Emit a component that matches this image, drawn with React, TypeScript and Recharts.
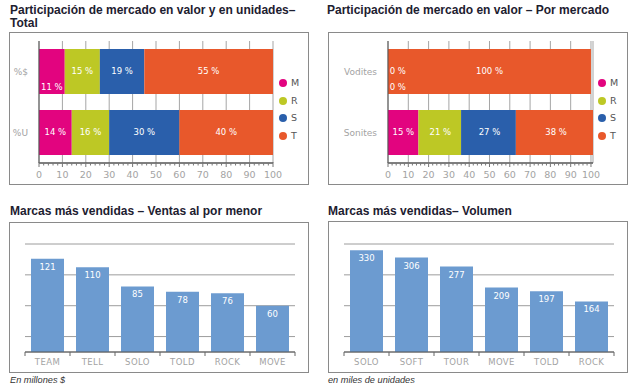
import React from 'react';
import { BarChart, Bar, XAxis, YAxis, CartesianGrid, LabelList } from 'recharts';

// market share, whole market
const totalRows = ['%$', '%U'];
const totalM = [11, 14];
const totalR = [15, 16];
const totalS = [19, 30];
const totalT = [55, 40];

// market share by market
const marketRows = ['Vodites', 'Sonites'];
const marketM = [0, 15];
const marketR = [0, 21];
const marketS = [0, 27];
const marketT = [100, 38];

const shareKeys = ['M', 'R', 'S', 'T'];
const pctTicks = [0, 10, 20, 30, 40, 50, 60, 70, 80, 90, 100];

// top brands
const retailBrands = ['TEAM', 'TELL', 'SOLO', 'TOLD', 'ROCK', 'MOVE'];
const retailSales = [121, 110, 85, 78, 76, 60];
const retailTicks = [0, 20, 40, 60, 80, 100, 120, 140];

const volumeBrands = ['SOLO', 'SOFT', 'TOUR', 'MOVE', 'TOLD', 'ROCK'];
const volumeUnits = [330, 306, 277, 209, 197, 164];
const volumeTicks = [0, 50, 100, 150, 200, 250, 300, 350];

const colors: Record<string, string> = {
  M: '#e2047f',
  R: '#bdc825',
  S: '#2a5fab',
  T: '#e8582b',
};
const brandBlue = '#6c9bd0';
const tickFont = '"DejaVu Sans", Verdana, sans-serif';
const titleFont = '"Liberation Sans", Arial, sans-serif';

type Slot = 'center' | 'below' | null;

const labelWidth = (v: number) => `${v} %`.length * 5.2;

// labels that don't fit go to the bottom of the bar, colliding ones get dropped
function placeLabels(values: number[], pxPerUnit: number): Slot[] {
  const taken: { slot: Slot; a: number; b: number }[] = [];
  let start = 0;
  return values.map((v) => {
    const w = v * pxPerUnit;
    const tw = labelWidth(v);
    const cx = Math.max(start * pxPerUnit + w / 2, tw / 2 + 2);
    start += v;
    const order: Slot[] = w >= tw + 8 ? ['center', 'below'] : ['below', 'center'];
    const a = cx - tw / 2;
    const b = cx + tw / 2;
    const slot = order.find((s) => !taken.some((t) => t.slot === s && t.a < b && a < t.b)) ?? null;
    if (slot) taken.push({ slot, a, b });
    return slot;
  });
}

function Legend({ left, top }: { left: number; top: number }) {
  return (
    <div style={{ position: 'absolute', left, top }}>
      {shareKeys.map((k, i) => (
        <div key={k} style={{ position: 'absolute', left: 0, top: i * 17.7, display: 'flex', alignItems: 'center', whiteSpace: 'nowrap' }}>
          <span style={{ width: 8, height: 8, borderRadius: 4, background: colors[k], display: 'inline-block' }} />
          <span style={{ marginLeft: 4, fontSize: 9.5, color: '#555', fontFamily: tickFont, lineHeight: '10px' }}>{k}</span>
        </div>
      ))}
    </div>
  );
}

// major tick with label plus four minor ticks to its right
function PctTick(props: any) {
  const { x, y, payload, step } = props;
  const minors = payload.value < 100 ? [1, 2, 3, 4] : [];
  return (
    <g>
      <line x1={x} x2={x} y1={y - 1} y2={y + 4} stroke="#777" />
      {minors.map((m) => (
        <line key={m} x1={x + m * step} x2={x + m * step} y1={y} y2={y + 2.5} stroke="#777" />
      ))}
      <text x={x} y={y + 15} textAnchor="middle" fill="#a3a3a3" fontSize={9.5} fontFamily={tickFont}>
        {payload.value}
      </text>
    </g>
  );
}

function ShareChart({
  left,
  top,
  height,
  rows,
  series,
  yWidth,
  marginRight,
}: {
  left: number;
  top: number;
  height: number;
  rows: string[];
  series: number[][];
  yWidth: number;
  marginRight: number;
}) {
  const width = 300;
  const data = rows.map((name, i) => {
    const row: Record<string, string | number> = { name };
    shareKeys.forEach((k, s) => (row[k] = series[s][i]));
    return row;
  });
  const plotW = width - yWidth - marginRight;
  const slots = rows.map((_, i) => placeLabels(series.map((s) => s[i]), plotW / 100));

  // all labels of a row are drawn from the last segment, which is never empty
  const renderRowLabels = (p: any) => {
    const i = p.index;
    if (!slots[i]) return null;
    const px = (p.x + p.width - yWidth) / 100;
    const cy = p.y + p.height / 2;
    let start = 0;
    return (
      <g key={`row-${i}`}>
        {series.map((s, si) => {
          const v = s[i];
          const segX = yWidth + start * px;
          start += v;
          const slot = slots[i][si];
          if (!slot) return null;
          const tw = labelWidth(v);
          const x = Math.max(segX + (v * px) / 2, yWidth + tw / 2 + 2);
          const y = cy + (slot === 'below' ? 16 : 0);
          return (
            <text key={si} x={x} y={y} dy="0.35em" textAnchor="middle" fill="#fff" fontSize={8.5} fontFamily={tickFont}>
              {`${v} %`}
            </text>
          );
        })}
      </g>
    );
  };

  return (
    <div style={{ position: 'absolute', left, top }}>
      <BarChart
        width={width}
        height={height}
        data={data}
        layout="vertical"
        barSize={45}
        margin={{ top: 9, right: marginRight, bottom: 0, left: 0 }}
      >
        <CartesianGrid horizontal={false} stroke="#a5a5a5" />
        <XAxis
          type="number"
          domain={[0, 100]}
          ticks={pctTicks}
          interval={0}
          height={height - 9 - 122}
          axisLine={{ stroke: '#555', strokeWidth: 1.5 }}
          tickLine={false}
          tickSize={0}
          tickMargin={0}
          tick={<PctTick step={plotW / 50} />}
        />
        <YAxis
          type="category"
          dataKey="name"
          width={yWidth}
          axisLine={{ stroke: '#555' }}
          tickLine={false}
          tickSize={0}
          tickMargin={11}
          tick={{ fill: '#a3a3a3', fontSize: 9, fontFamily: tickFont }}
        />
        {shareKeys.map((k, si) => (
          <Bar
            key={k}
            dataKey={k}
            stackId="a"
            fill={colors[k]}
            isAnimationActive={false}
            label={si === shareKeys.length - 1 ? renderRowLabels : undefined}
          />
        ))}
      </BarChart>
    </div>
  );
}

function BrandTick(props: any) {
  const { x, y, payload, index, band } = props;
  return (
    <g>
      <line x1={x - band / 2} x2={x - band / 2} y1={y} y2={y + 4} stroke="#666" />
      {index === 5 && <line x1={x + band / 2} x2={x + band / 2} y1={y} y2={y + 4} stroke="#666" />}
      <text x={x} y={y + 13} textAnchor="middle" fill="#a3a3a3" fontSize={8.5} letterSpacing={0.4} fontFamily={tickFont}>
        {payload.value}
      </text>
    </g>
  );
}

function BrandChart({
  left,
  top,
  brands,
  values,
  ticks,
}: {
  left: number;
  top: number;
  brands: string[];
  values: number[];
  ticks: number[];
}) {
  const data = brands.map((name, i) => ({ name, value: values[i] }));
  const margin = { top: 22, right: 14, bottom: 0, left: 16 };
  const band = (300 - margin.left - margin.right) / brands.length;
  return (
    <div style={{ position: 'absolute', left, top }}>
      <BarChart width={300} height={150} data={data} margin={margin} barSize={33}>
        <CartesianGrid vertical={false} stroke="#9c9c9c" />
        <XAxis
          dataKey="name"
          height={20}
          interval={0}
          axisLine={{ stroke: '#555' }}
          tickLine={false}
          tickSize={0}
          tickMargin={0}
          tick={<BrandTick band={band} />}
        />
        <YAxis hide domain={[0, ticks[ticks.length - 1]]} ticks={ticks} />
        <Bar dataKey="value" fill={brandBlue} isAnimationActive={false}>
          <LabelList dataKey="value" position="insideTop" offset={5} fill="#fff" fontSize={8.5} fontFamily={tickFont} />
        </Bar>
      </BarChart>
    </div>
  );
}

const titleStyle: React.CSSProperties = {
  position: 'absolute',
  fontFamily: titleFont,
  fontWeight: 'bold',
  fontSize: 12,
  lineHeight: '13px',
  color: '#1d2030',
  whiteSpace: 'nowrap',
};

const noteStyle: React.CSSProperties = {
  position: 'absolute',
  fontFamily: titleFont,
  fontStyle: 'italic',
  fontSize: 9.2,
  lineHeight: '10px',
  color: '#333',
  whiteSpace: 'nowrap',
};

const boxStyle = (left: number, top: number, height: number): React.CSSProperties => ({
  position: 'absolute',
  left,
  top,
  width: 300,
  height,
  boxSizing: 'border-box',
  border: '1px solid #8a8a8a',
});

export default function App() {
  return (
    <div style={{ position: 'absolute', left: 0, top: 0, width: 642, height: 391, background: '#fff', overflow: 'hidden' }}>
      <div style={{ ...titleStyle, left: 10, top: 4 }}>
        Participación de mercado en valor y en unidades–
        <br />
        Total
      </div>
      <div style={{ ...titleStyle, left: 327, top: 4 }}>Participación de mercado en valor – Por mercado</div>

      <div style={boxStyle(9, 32, 153)} />
      <div style={boxStyle(328, 32, 153)} />
      <ShareChart
        left={9}
        top={32}
        height={153}
        rows={totalRows}
        series={[totalM, totalR, totalS, totalT]}
        yWidth={30}
        marginRight={36}
      />
      <ShareChart
        left={328}
        top={32}
        height={153}
        rows={marketRows}
        series={[marketM, marketR, marketS, marketT]}
        yWidth={60}
        marginRight={35}
      />
      <Legend left={279} top={78} />
      <Legend left={598} top={78} />

      <div style={{ ...titleStyle, left: 10, top: 205 }}>Marcas más vendidas – Ventas al por menor</div>
      <div style={{ ...titleStyle, left: 328, top: 205 }}>Marcas más vendidas– Volumen</div>

      <div style={boxStyle(9, 222, 151)} />
      <div style={boxStyle(328, 221, 152)} />
      <BrandChart left={9} top={222} brands={retailBrands} values={retailSales} ticks={retailTicks} />
      <BrandChart left={328} top={222} brands={volumeBrands} values={volumeUnits} ticks={volumeTicks} />

      <div style={{ ...noteStyle, left: 10, top: 375 }}>En millones $</div>
      <div style={{ ...noteStyle, left: 328, top: 375 }}>en miles de unidades</div>
    </div>
  );
}
